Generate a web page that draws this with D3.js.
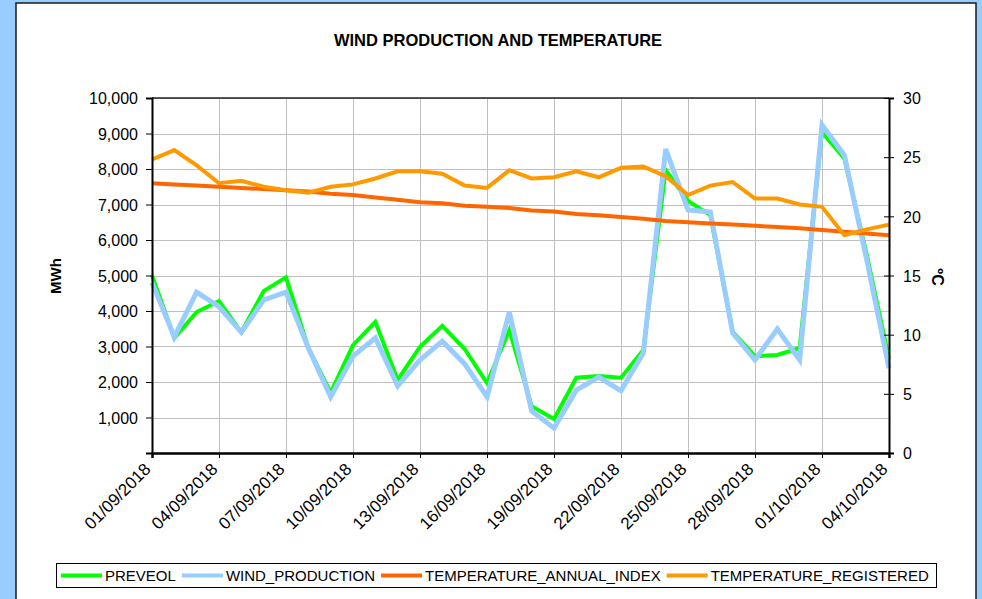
<!DOCTYPE html>
<meta charset="utf-8">
<html>
  <head>
    <style>
     body { margin: 0; background: #99CCFF; }
     text { font-family: "Liberation Sans", Arial, sans-serif; fill: #000; }
     .grid line { stroke: #c0c0c0; stroke-width: 1px; shape-rendering: crispEdges; }
     .tick-label { font-size: 16px; }
     .x-label { font-size: 17px; }
     .legend-label { font-size: 15px; }
    </style>
    <script src="https://cdn.jsdelivr.net/npm/d3@7"></script>
  </head>
  <body>
    <div id="chart"></div>
    <script type="text/javascript">
     // dates (dd/mm/yyyy) and daily values
     var dates = ["01/09/2018","02/09/2018","03/09/2018","04/09/2018","05/09/2018","06/09/2018",
                  "07/09/2018","08/09/2018","09/09/2018","10/09/2018","11/09/2018","12/09/2018",
                  "13/09/2018","14/09/2018","15/09/2018","16/09/2018","17/09/2018","18/09/2018",
                  "19/09/2018","20/09/2018","21/09/2018","22/09/2018","23/09/2018","24/09/2018",
                  "25/09/2018","26/09/2018","27/09/2018","28/09/2018","29/09/2018","30/09/2018",
                  "01/10/2018","02/10/2018","03/10/2018","04/10/2018"];
     var preveol = [5000, 3240, 3970, 4280, 3400, 4560, 4950, 2960, 1700, 3040, 3690, 2060,
                    2990, 3580, 2930, 1970, 3460, 1320, 960, 2120, 2170, 2120, 2900, 7970,
                    7100, 6700, 3410, 2730, 2760, 2960, 9040, 8300, 5600, 2650];
     var windProduction = [4800, 3270, 4530, 4120, 3400, 4310, 4530, 2960, 1580, 2730, 3240, 1890,
                           2620, 3150, 2510, 1580, 3970, 1180, 700, 1770, 2140, 1750, 2820, 8560,
                           6850, 6790, 3380, 2620, 3490, 2620, 9240, 8390, 5450, 2390];
     var tempAnnualIndex = [22.8, 22.7, 22.6, 22.5, 22.4, 22.3, 22.2, 22.1, 21.9, 21.8, 21.6, 21.4,
                            21.2, 21.1, 20.9, 20.8, 20.7, 20.5, 20.4, 20.2, 20.1, 19.95, 19.8, 19.6,
                            19.5, 19.4, 19.3, 19.2, 19.1, 19.0, 18.85, 18.7, 18.55, 18.4];
     var tempRegistered = [24.8, 25.6, 24.3, 22.8, 23.0, 22.5, 22.2, 22.0, 22.5, 22.7, 23.2, 23.8,
                           23.8, 23.6, 22.6, 22.4, 23.9, 23.2, 23.3, 23.8, 23.3, 24.1, 24.2, 23.4,
                           21.8, 22.6, 22.9, 21.5, 21.5, 21.0, 20.8, 18.4, 18.9, 19.3];
     var xTickLabels = ["01/09/2018","04/09/2018","07/09/2018","10/09/2018","13/09/2018","16/09/2018",
                        "19/09/2018","22/09/2018","25/09/2018","28/09/2018","01/10/2018","04/10/2018"];
     var mwhTicks = [1000, 2000, 3000, 4000, 5000, 6000, 7000, 8000, 9000, 10000];
     var tempTicks = [0, 5, 10, 15, 20, 25, 30];

     var seriesNames = ["PREVEOL", "WIND_PRODUCTION", "TEMPERATURE_ANNUAL_INDEX", "TEMPERATURE_REGISTERED"];
     var seriesColors = ["#00FF00", "#99CCFF", "#FF6600", "#FF9900"];
     var seriesWidths = [4, 5, 4, 4];

     var W = 982, H = 599;
     var plot = { left: 152, right: 889, top: 98, bottom: 453 };

     var parse = d3.timeParse("%d/%m/%Y");
     var fmt = d3.timeFormat("%d/%m/%Y");

     var svg = d3.select("#chart").append("svg")
		 .attr("width", W)
		 .attr("height", H);

     // white chart panel
     svg.append("rect")
	.attr("x", 16).attr("y", 3)
	.attr("width", 960).attr("height", H + 10)
	.attr("fill", "#fff")
	.attr("stroke", "#1a1a1a")
	.attr("stroke-width", 1.5);

     var x = d3.scaleTime()
	       .domain([parse(dates[0]), parse(dates[dates.length - 1])])
	       .range([plot.left, plot.right]);
     var yL = d3.scaleLinear().domain([0, 10000]).range([plot.bottom, plot.top]);
     var yR = d3.scaleLinear().domain([0, 30]).range([plot.bottom, plot.top]);

     var xTicks = xTickLabels.map(parse);

     // grid
     var grid = svg.append("g").attr("class", "grid");
     grid.selectAll(".hg")
	 .data(mwhTicks)
	 .enter().append("line")
	 .attr("x1", plot.left).attr("x2", plot.right)
	 .attr("y1", function(d) { return Math.round(yL(d)) + 0.5; })
	 .attr("y2", function(d) { return Math.round(yL(d)) + 0.5; });
     grid.selectAll(".vg")
	 .data(xTicks)
	 .enter().append("line")
	 .attr("y1", plot.top).attr("y2", plot.bottom)
	 .attr("x1", function(d) { return Math.round(x(d)) + 0.5; })
	 .attr("x2", function(d) { return Math.round(x(d)) + 0.5; });

     // top border of plot
     svg.append("line")
	.attr("x1", plot.left).attr("x2", plot.right)
	.attr("y1", plot.top).attr("y2", plot.top)
	.attr("stroke", "#222").attr("stroke-width", 1.5);

     // series
     var series = [preveol, windProduction, tempAnnualIndex, tempRegistered];
     series.forEach(function(vals, k) {
       var yScale = k < 2 ? yL : yR;
       var line = d3.line()
		    .x(function(d, i) { return x(parse(dates[i])); })
		    .y(function(d) { return yScale(d); });
       svg.append("path")
	  .datum(vals)
	  .attr("d", line)
	  .attr("fill", "none")
	  .attr("stroke", seriesColors[k])
	  .attr("stroke-width", seriesWidths[k])
	  .attr("stroke-linejoin", "miter");
     });

     // left axis
     var leftAxis = svg.append("g")
		       .attr("transform", "translate(" + plot.left + ",0)")
		       .call(d3.axisLeft(yL).tickValues([0].concat(mwhTicks))
			       .tickFormat(function(d) { return d === 0 ? "" : d3.format(",")(d); })
			       .tickSize(6).tickPadding(8));
     leftAxis.select(".domain").attr("stroke", "#000").attr("stroke-width", 2);
     leftAxis.selectAll("text").attr("class", "tick-label").attr("dy", "0.36em");

     // right axis with ticks crossing the line
     var rightAxis = svg.append("g")
			.attr("transform", "translate(" + plot.right + ",0)")
			.call(d3.axisRight(yR).tickValues(tempTicks).tickSize(5).tickPadding(9));
     rightAxis.select(".domain").attr("stroke", "#000").attr("stroke-width", 2);
     rightAxis.selectAll(".tick line").attr("x1", -5);
     rightAxis.selectAll("text").attr("class", "tick-label").attr("dy", "0.36em");

     // bottom axis
     var bottomAxis = svg.append("g")
			 .attr("transform", "translate(0," + plot.bottom + ")")
			 .call(d3.axisBottom(x).tickValues(xTicks).tickFormat(fmt).tickSize(5));
     bottomAxis.select(".domain").attr("stroke", "#000").attr("stroke-width", 2.5);
     bottomAxis.selectAll("text")
	       .attr("class", "x-label")
	       .style("text-anchor", "end")
	       .attr("transform", "translate(-5,13) rotate(-45)")
	       .attr("x", 0).attr("y", 0).attr("dy", "0.35em");
     svg.selectAll(".domain").attr("fill", "none");

     // titles
     svg.append("text")
	.attr("x", 498).attr("y", 46)
	.attr("text-anchor", "middle")
	.style("font-size", "16.5px").style("font-weight", "bold")
	.text("WIND PRODUCTION AND TEMPERATURE");
     svg.append("text")
	.attr("transform", "translate(61,276) rotate(-90)")
	.attr("text-anchor", "middle")
	.style("font-size", "15px").style("font-weight", "bold")
	.text("MWh");
     svg.append("text")
	.attr("transform", "translate(932,277) rotate(90)")
	.attr("text-anchor", "middle")
	.style("font-size", "16px").style("font-weight", "bold")
	.text("ºC");

     // legend
     var legend = svg.append("g");
     legend.append("rect")
	   .attr("x", 56.5).attr("y", 563.5)
	   .attr("width", 880).attr("height", 24)
	   .attr("fill", "#fff").attr("stroke", "#000");
     var lx = 61;
     seriesNames.forEach(function(name, k) {
       legend.append("line")
	     .attr("x1", lx).attr("x2", lx + 41)
	     .attr("y1", 575.5).attr("y2", 575.5)
	     .attr("stroke", seriesColors[k]).attr("stroke-width", 4);
       var t = legend.append("text")
		     .attr("class", "legend-label")
		     .attr("x", lx + 44).attr("y", 581)
		     .text(name);
       lx += 44 + t.node().getComputedTextLength() + 6;
     });
    </script>
  </body>
</html>
